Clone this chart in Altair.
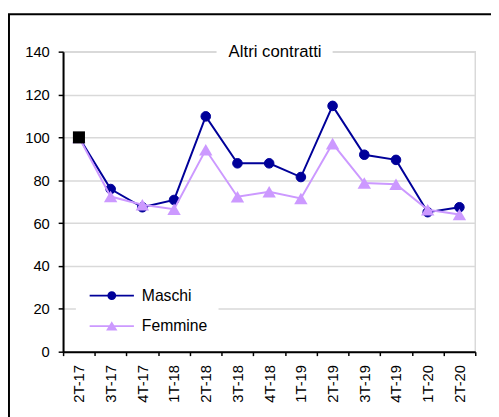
import altair as alt
import pandas as pd

# ---- data ----
categories = ["2T-17", "3T-17", "4T-17", "1T-18", "2T-18", "3T-18", "4T-18",
              "1T-19", "2T-19", "3T-19", "4T-19", "1T-20", "2T-20"]
maschi = [100, 75.9, 67.4, 70.8, 109.8, 87.9, 87.9, 81.5, 114.7, 91.9, 89.5, 65.1, 67.4]
femmine = [100, 72.4, 68.6, 66.5, 94.2, 72.3, 74.6, 71.5, 97.1, 78.7, 78.1, 66.2, 64.0]
base_categories = ["2T-17"]
base_values = [100]
series_names = ["Maschi", "Femmine"]
series_colors = ["#000099", "#CC99FF"]
y_ticks = [0, 20, 40, 60, 80, 100, 120, 140]
title_text = "Altri contratti"

FONT = "Liberation Sans"

df = pd.DataFrame({
    "periodo": categories * 2,
    "serie": [series_names[0]] * len(categories) + [series_names[1]] * len(categories),
    "valore": maschi + femmine,
})
base_df = pd.DataFrame({"periodo": base_categories, "valore": base_values})
one = pd.DataFrame({"k": [0]})

x_enc = alt.X("periodo:N", sort=categories,
              scale=alt.Scale(type="band", domain=categories, paddingInner=0, paddingOuter=0),
              axis=alt.Axis(title=None, labelAngle=-90, tickBand="extent", grid=False,
                            tickSize=4, labelPadding=9, labelFontSize=15))
y_enc = alt.Y("valore:Q", scale=alt.Scale(domain=[0, 140], nice=False, zero=True),
              axis=alt.Axis(title=None, values=y_ticks, grid=True, tickSize=5,
                            labelPadding=9, labelFontSize=15))

base = alt.Chart(df).encode(x=x_enc, y=y_enc)

m_line = base.transform_filter(alt.datum.serie == series_names[0]).mark_line(
    color=series_colors[0], strokeWidth=2)
m_pts = base.transform_filter(alt.datum.serie == series_names[0]).mark_point(
    shape="circle", filled=True, fill=series_colors[0], stroke=series_colors[0],
    strokeWidth=1, size=95, opacity=1)
f_line = base.transform_filter(alt.datum.serie == series_names[1]).mark_line(
    color=series_colors[1], strokeWidth=2)
f_pts = base.transform_filter(alt.datum.serie == series_names[1]).mark_point(
    shape="triangle-up", filled=True, fill=series_colors[1], strokeWidth=0,
    size=185, opacity=1)
sq = alt.Chart(base_df).mark_point(shape="square", filled=True, fill="black",
                                   stroke="black", strokeWidth=0, size=150,
                                   opacity=1).encode(x=x_enc, y=y_enc)

# legend symbols: line + marker (custom paths, unit = 5px)
legend_paths = [
    "M-1,0L8,0M2.8,0A0.7,0.7,0,1,0,4.2,0A0.7,0.7,0,1,0,2.8,0Z",
    "M-1,0L8,0M3.5,-0.6L4.3,0.7L2.7,0.7Z",
]
leg = alt.Legend(title=None, orient="none", legendX=13, legendY=229, padding=11,
                 fillColor="white", symbolSize=100, symbolStrokeWidth=2,
                 labelFont=FONT, labelFontSize=16, labelColor="black",
                 labelOffset=40, rowPadding=15)
legend_layer = base.transform_filter("false").mark_point(filled=True, opacity=1).encode(
    fill=alt.Fill("serie:N", scale=alt.Scale(domain=series_names, range=series_colors), legend=leg),
    stroke=alt.Stroke("serie:N", scale=alt.Scale(domain=series_names, range=series_colors), legend=leg),
    shape=alt.Shape("serie:N", scale=alt.Scale(domain=series_names, range=legend_paths), legend=leg),
)

title_bg = alt.Chart(one).mark_rect(fill="white").encode(
    x=alt.value(156), x2=alt.value(274), y=alt.value(-8), y2=alt.value(8))
title_txt = alt.Chart(one).mark_text(text=title_text, font=FONT, fontSize=17,
                                     color="black", align="center", baseline="middle").encode(
    x=alt.value(215.5), y=alt.value(0))

frame_top = alt.Chart(one).mark_rule(color="black", strokeWidth=2).encode(
    x=alt.value(-56), x2=alt.value(440), y=alt.value(-38))
frame_left = alt.Chart(one).mark_rule(color="black", strokeWidth=2).encode(
    x=alt.value(-55), y=alt.value(-38), y2=alt.value(380))

chart = alt.layer(
    m_line, m_pts, f_line, f_pts, sq, legend_layer, title_bg, title_txt, frame_top, frame_left
).properties(
    width=419, height=305,
    padding={"left": 56, "top": 41, "right": 16, "bottom": 63},
    autosize=alt.AutoSizeParams(type="none"),
    background="white",
).configure_view(
    stroke="#d9d9d9", strokeWidth=1.5
).configure_axis(
    labelFont=FONT, labelColor="black", domainColor="black", domainWidth=2,
    tickColor="black", tickWidth=1.5, gridColor="#d9d9d9", gridWidth=1.5,
)

chart.save("out.html", embed_options={"renderer": "svg", "actions": False})
